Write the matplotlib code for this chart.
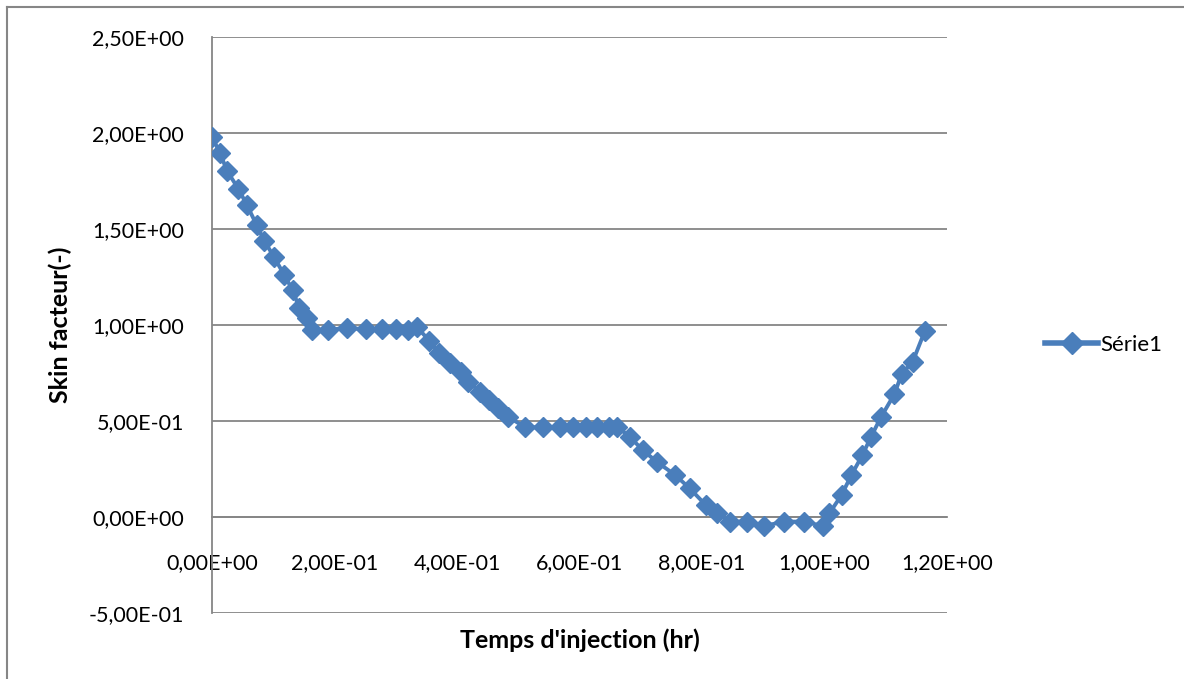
import numpy as np
import matplotlib
matplotlib.use('Agg')
import matplotlib.pyplot as plt
from matplotlib.ticker import FuncFormatter
from matplotlib.lines import Line2D

plt.rcParams['font.family'] = ['Lato', 'DejaVu Sans']

# temps d'injection (hr) et skin facteur (-)
temps = [0.0, 0.013, 0.025, 0.043, 0.057, 0.073, 0.085, 0.101, 0.118, 0.132,
         0.1425, 0.155, 0.163, 0.189, 0.22, 0.251, 0.277, 0.300, 0.3205, 0.334,
         0.355, 0.371, 0.389, 0.4065, 0.4185, 0.4375, 0.4527, 0.4675, 0.4838, 0.511,
         0.540, 0.568, 0.590, 0.611, 0.629, 0.648, 0.6617, 0.682, 0.703, 0.726,
         0.756, 0.780, 0.806, 0.824, 0.8457, 0.873, 0.901, 0.934, 0.9665, 0.998,
         1.008, 1.028, 1.044, 1.062, 1.076, 1.092, 1.114, 1.126, 1.144, 1.164]
skin = [1.98, 1.896, 1.80, 1.71, 1.625, 1.52, 1.44, 1.356, 1.26, 1.18,
        1.087, 1.035, 0.974, 0.974, 0.986, 0.977, 0.977, 0.977, 0.974, 0.991,
        0.918, 0.852, 0.80, 0.757, 0.705, 0.653, 0.609, 0.566, 0.522, 0.467,
        0.467, 0.467, 0.467, 0.467, 0.467, 0.467, 0.470, 0.418, 0.349, 0.288,
        0.219, 0.149, 0.0625, 0.019, -0.024, -0.024, -0.047, -0.024, -0.024, -0.047,
        0.019, 0.115, 0.219, 0.323, 0.418, 0.519, 0.639, 0.745, 0.809, 0.970]

bleu = '#4A7EBB'
gris = '#868686'

fig = plt.figure(figsize=(11.84, 6.79), dpi=100)
ax = fig.add_axes([212/1184, 1 - 613/679, (947-212)/1184, (613-37)/679])

ax.plot(temps, skin, color=bleu, lw=2.8, marker='D', ms=10,
        markerfacecolor=bleu, markeredgecolor=bleu, label='Série1', zorder=3)

ax.set_xlim(0, 1.2)
ax.set_ylim(-0.5, 2.5)
ax.set_xticks(np.arange(0, 1.21, 0.2))
ax.set_yticks(np.arange(-0.5, 2.51, 0.5))

fmt = FuncFormatter(lambda v, p: '{:.2E}'.format(v).replace('.', ','))
ax.xaxis.set_major_formatter(fmt)
ax.yaxis.set_major_formatter(fmt)

ax.grid(axis='y', color=gris, lw=1.3)
ax.set_axisbelow(True)
for s in ['top', 'right']:
    ax.spines[s].set_visible(False)
ax.spines['bottom'].set_position(('data', 0))
ax.spines['bottom'].set_color(gris)
ax.spines['bottom'].set_linewidth(1.3)
ax.spines['left'].set_color(gris)
ax.spines['left'].set_linewidth(1.3)
ax.tick_params(length=0, labelsize=15.5)
ax.tick_params(axis='x', pad=26)
ax.tick_params(axis='y', pad=20)

ax.set_xlabel("Temps d'injection (hr)", fontsize=18, fontweight='bold')
ax.set_ylabel('Skin facteur(-)', fontsize=18, fontweight='bold')
ax.xaxis.set_label_coords(0.5, -0.027)
ax.yaxis.set_label_coords(-140/735, 0.5)

handle = Line2D([], [], color=bleu, lw=4, marker='D', ms=11)
fig.legend([handle], ['Série1'], loc='center left', bbox_to_anchor=(1025/1184, 1 - 345/679),
           frameon=False, fontsize=16, handlelength=2.4, handletextpad=0.1)

# bordure extérieure du graphique
fig.add_artist(Line2D([7/1184, 7/1184], [0, 1 - 7/679], color=gris, lw=1.5))
fig.add_artist(Line2D([7/1184, 1], [1 - 7/679, 1 - 7/679], color=gris, lw=1.5))

fig.savefig('out.png', dpi=100)
